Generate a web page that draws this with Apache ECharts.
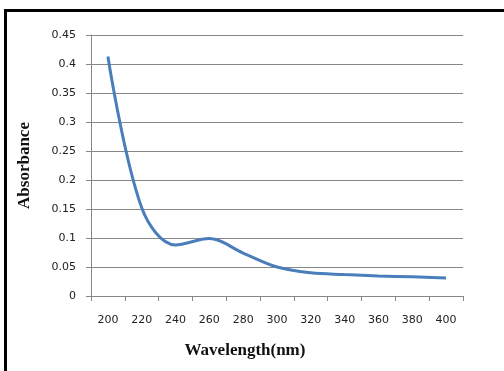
<!DOCTYPE html>
<html>
<head>
<meta charset="utf-8">
<script src="https://cdn.jsdelivr.net/npm/echarts@6/dist/echarts.min.js"></script>
<style>
    html, body { margin: 0; padding: 0; background: #fff; }
    #chart { width: 504px; height: 371px; }
</style>
</head>
<body>
<div id="chart"></div>
<script>
// 波长 (nm)
const wavelengths = ['200', '220', '240', '260', '280', '300', '320', '340', '360', '380', '400'];
// 吸光度
const absorbance = [0.413, 0.152, 0.088, 0.099, 0.074, 0.050, 0.040, 0.037, 0.0345, 0.033, 0.031];
const yTicks = [0, 0.05, 0.1, 0.15, 0.2, 0.25, 0.3, 0.35, 0.4, 0.45];

const chart = echarts.init(document.getElementById('chart'), null, { renderer: 'canvas' });

const axisColor = '#888';
const labelFont = { color: '#222', fontFamily: 'DejaVu Sans', fontSize: 11 };
const titleFont = { color: '#111', fontFamily: 'Liberation Serif', fontWeight: 'bold', fontSize: 17 };

chart.setOption({
    animation: false,
    backgroundColor: '#fff',
    grid: { left: 91, right: 41, top: 35, bottom: 75 },
    graphic: [
        {
            type: 'rect',
            shape: { x: 5.5, y: 10.5, width: 700, height: 700 },
            style: { fill: 'none', stroke: '#000', lineWidth: 3 },
            silent: true
        }
    ],
    xAxis: {
        type: 'category',
        data: wavelengths,
        boundaryGap: true,
        name: 'Wavelength(nm)',
        nameLocation: 'middle',
        nameGap: 46,
        // 标题略偏左
        nameTextStyle: Object.assign({ padding: [0, 64, 0, 0] }, titleFont),
        axisLine: { lineStyle: { color: axisColor, width: 1 } },
        axisTick: { show: true, length: 5, lineStyle: { color: axisColor } },
        axisLabel: Object.assign({ margin: 19 }, labelFont),
        splitLine: { show: false }
    },
    yAxis: {
        type: 'value',
        min: 0,
        max: 0.45,
        interval: 0.05,
        name: 'Absorbance',
        nameLocation: 'middle',
        nameGap: 58,
        nameRotate: 90,
        nameTextStyle: titleFont,
        axisLine: { show: true, lineStyle: { color: axisColor, width: 1 } },
        axisTick: { show: true, length: 5, lineStyle: { color: axisColor } },
        axisLabel: Object.assign({
            margin: 15,
            formatter: v => {
                const t = yTicks.find(x => Math.abs(x - v) < 1e-9);
                return t === undefined ? '' : String(t);
            }
        }, labelFont),
        splitLine: { show: true, lineStyle: { color: axisColor, width: 1 } }
    },
    series: [
        {
            type: 'line',
            data: absorbance,
            smooth: 0.35,
            symbol: 'none',
            lineStyle: { color: '#4a7ebb', width: 3 }
        }
    ]
});
</script>
</body>
</html>
